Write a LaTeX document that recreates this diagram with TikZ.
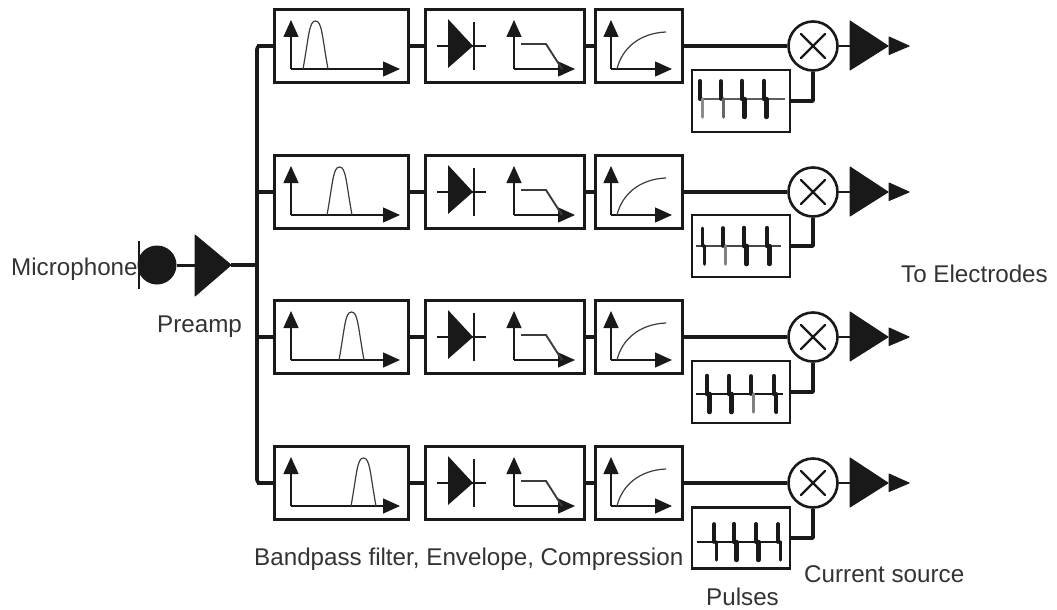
\documentclass[tikz,border=0pt]{standalone}
\usepackage{fontspec}
\setmainfont{Liberation Sans}
\usetikzlibrary{arrows.meta,calc}
\definecolor{ink}{gray}{0.1}
\definecolor{lbl}{gray}{0.2}
\tikzset{
  x=1pt,y=-1pt,
  blk/.style={draw=ink,line width=2.6pt,fill=white,anchor=west,inner sep=0pt,minimum height=73pt},
  wire/.style={draw=ink,line width=3.6pt,line join=round},
  axis/.style={draw=ink,line width=1.3pt,-{Triangle[length=17pt,width=15pt,fill=ink]}},
  trace/.style={draw=ink!85,line width=1.2pt},
  lab/.style={text=lbl,font=\fontsize{24.2}{27}\selectfont,inner sep=0pt,anchor=base west},
  tri/.style={fill=ink,draw=ink,line join=round,line width=1pt},
}
\newcommand{\pulsemark}[5]{% x, mid, topwidth, botwidth, colour of bottom
  \draw[ink,line width=#3pt,line cap=round] (#1,#2-18) -- (#1,#2);
  \draw[#5,line width=#4pt,line cap=round] (#1+2.4,#2) -- (#1+2.4,#2+18);
}
\begin{document}
\begin{tikzpicture}
\useasboundingbox (0,0) rectangle (1057,610);
% input stage
\node[lab] (miclabel) at (11,275) {Microphone};
\node[circle,fill=ink,minimum size=39pt,inner sep=0pt] (mic) at (157,265) {};
\draw[ink,line width=1.6pt] (139,241) -- (139,289);
\path[tri] (195,235) -- (231,265) -- (195,296) -- cycle;
\coordinate (ampin) at (195,265);
\coordinate (ampout) at (231,265);
\coordinate (bus) at (257,265);
\draw[wire,line width=3pt] (mic) -- (ampin);
\draw[wire] (ampout) -- (bus);
\node[lab] (preamp) at (157,332) {Preamp};
\draw[wire,rounded corners=3pt] (273,46) -- (257,46) -- (257,483) -- (273,483);
% four channels: row centre / bandpass start / pulse mid
\foreach \r/\y/\bp/\py/\ph in {1/46/303/101/62,2/192/327/246/62,3/337/339/392/62,4/483/351/538/61}{
  \coordinate (bustap\r) at (257,\y);
  \node[blk,minimum width=134pt] (fil\r) at (273,\y) {};
  \node[blk,minimum width=159pt] (env\r) at (424,\y) {};
  \node[blk,minimum width=87pt] (cmp\r) at (594,\y) {};
  \node[circle,draw=ink,line width=2.6pt,fill=white,minimum size=49pt,inner sep=0pt] (mul\r) at (813,\y) {};
  \node[blk,line width=2.2pt,minimum width=98pt,minimum height=\ph pt] (pul\r) at (691,\py) {};
  \draw[wire] (bustap\r) -- (fil\r.west);
  \draw[wire] (fil\r.east) -- (env\r.west);
  \draw[wire] (env\r.east) -- (cmp\r.west);
  \draw[wire] (cmp\r.east) -- (mul\r.west);
  \draw[wire] (pul\r.east) -| (mul\r.south);
  % multiply sign
  \draw[ink,line width=2.2pt,line cap=round] (801,\y-12) -- (825,\y+12) (801,\y+12) -- (825,\y-12);
  % output amplifier
  \draw[ink,line width=2pt] (mul\r.east) -- (850,\y);
  \path[tri] (850,\y-25) -- (888,\y) -- (850,\y+24) -- cycle;
  \path[tri] (889,\y-9) -- (909,\y) -- (889,\y+8.5) -- cycle;
  % bandpass icon
  \draw[axis] (291,\y+23) -- (291,\y-26);
  \draw[axis] (291,\y+23) -- (400,\y+23);
  \draw[trace] (\bp,\y+23) .. controls (\bp+6,\y-10) and (\bp+6,\y-25) .. (\bp+12.5,\y-25)
     .. controls (\bp+19,\y-25) and (\bp+19,\y-10) .. (\bp+25,\y+23);
  % rectifier icon
  \draw[ink,line width=1.8pt] (437,\y) -- (486,\y);
  \path[fill=ink] (448,\y-27) -- (473,\y) -- (448,\y+22) -- cycle;
  \draw[ink,line width=2.4pt] (474,\y-24) -- (474,\y+24);
  % low-pass icon
  \draw[axis] (514,\y+23) -- (514,\y-26);
  \draw[axis] (514,\y+23) -- (575,\y+23);
  \draw[ink!85,line width=1.9pt] (521,\y-2) -- (546,\y-2) -- (562,\y+23);
  % compression icon
  \draw[axis] (611,\y+23) -- (611,\y-26);
  \draw[axis] (611,\y+23) -- (672,\y+23);
  \draw[trace] (617,\y+23) .. controls (622,\y+2) and (640,\y-13) .. (666,\y-14);
}
% pulse trains
\draw[ink!70,line width=1.1pt] (698,99) -- (785,99);
\pulsemark{700}{99}{4}{3.6}{black!45}\pulsemark{721}{99}{3.6}{3.6}{black!60}\pulsemark{742}{99}{4.4}{4.4}{ink}\pulsemark{764}{99}{4.4}{4.4}{ink}
\draw[ink!80,line width=1.1pt] (696,246) -- (781,246);
\pulsemark{702}{246}{3}{3.6}{ink}\pulsemark{723}{246}{3.6}{3.6}{black!50}\pulsemark{744}{246}{4.6}{4.8}{ink}\pulsemark{767}{246}{4.4}{4.4}{ink}
\draw[ink,line width=1.4pt] (696,394) -- (783,394);
\pulsemark{707}{394}{4.6}{4.6}{ink}\pulsemark{729}{394}{4.4}{4.6}{ink}\pulsemark{751}{394}{3.6}{3.4}{black!50}\pulsemark{774}{394}{4.2}{4}{ink}
\draw[ink,line width=1.4pt] (697,542) -- (782,542);
\pulsemark{714}{542}{3.6}{3.2}{ink}\pulsemark{734}{542}{4.2}{4.4}{ink}\pulsemark{756}{542}{4}{4.4}{ink}\pulsemark{778}{542}{3.8}{3.2}{ink}
% labels
\node[lab] (electrodes) at (901,282) {To Electrodes};
\node[lab] (chain) at (254,565) {Bandpass filter, Envelope, Compression};
\node[lab] (source) at (804,582) {Current source};
\node[lab] (pulses) at (706,605.5) {Pulses};
\end{tikzpicture}
\end{document}
